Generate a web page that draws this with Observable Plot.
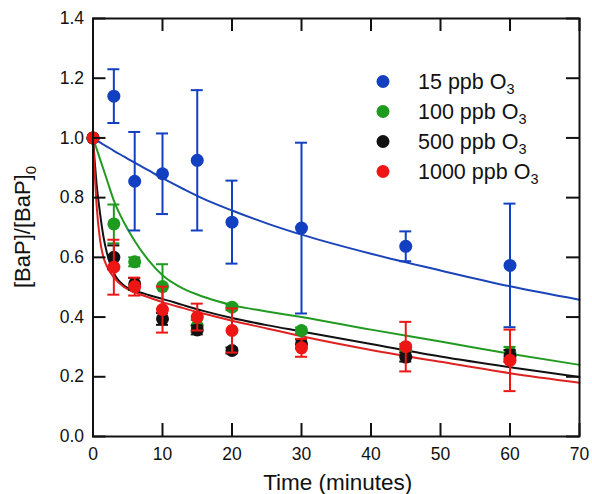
<!DOCTYPE html>
<html><head><meta charset="utf-8">
<script src="https://cdn.jsdelivr.net/npm/d3@7"></script>
<script src="https://cdn.jsdelivr.net/npm/@observablehq/plot@0.6"></script>
<style>body{margin:0;background:#fff}#chart svg{display:block}</style>
</head><body><div id="chart"></div>
<script>
// ---- data ----
const times = [0, 3, 6, 10, 15, 20, 30, 45, 60];
const seriesNames = ["15 ppb O3", "100 ppb O3", "500 ppb O3", "1000 ppb O3"];
const val15   = [1.0, 1.14, 0.855, 0.88, 0.925, 0.718, 0.698, 0.637, 0.573];
const err15   = [0, 0.09, 0.165, 0.135, 0.235, 0.139, 0.286, 0.05, 0.207];
const val100  = [1.0, 0.712, 0.585, 0.502, 0.37, 0.433, 0.355, 0.29, 0.28];
const err100  = [0, 0.065, 0.015, 0.075, 0.02, 0.01, 0.01, 0.02, 0.02];
const val500  = [1.0, 0.60, 0.511, 0.394, 0.357, 0.288, 0.31, 0.266, 0.27];
const err500  = [0, 0.04, 0.02, 0.02, 0.015, 0.01, 0.015, 0.015, 0.02];
const val1000 = [1.0, 0.567, 0.502, 0.425, 0.40, 0.355, 0.297, 0.301, 0.255];
const err1000 = [0, 0.092, 0.03, 0.077, 0.045, 0.074, 0.03, 0.083, 0.103];

// fitted curves
const fitT    = [0, 0.25, 0.5, 1, 1.5, 2, 3, 4.5, 6, 8, 10, 13, 16, 20, 25, 30, 40, 50, 60, 70];
const fit15   = [1.0, 0.996, 0.993, 0.985, 0.978, 0.971, 0.957, 0.937, 0.917, 0.891, 0.865, 0.829, 0.795, 0.757, 0.714, 0.676, 0.612, 0.556, 0.503, 0.458];
const fit100  = [1.0, 0.982, 0.965, 0.93, 0.895, 0.86, 0.79, 0.715, 0.655, 0.59, 0.54, 0.495, 0.467, 0.44, 0.419, 0.40, 0.358, 0.318, 0.277, 0.240];
const fit500  = [1.0, 0.92, 0.85, 0.75, 0.67, 0.615, 0.548, 0.505, 0.489, 0.474, 0.461, 0.44, 0.42, 0.397, 0.373, 0.352, 0.31, 0.268, 0.232, 0.199];
const fit1000 = [1.0, 0.88, 0.78, 0.66, 0.60, 0.57, 0.533, 0.50, 0.483, 0.466, 0.45, 0.43, 0.411, 0.388, 0.362, 0.336, 0.29, 0.25, 0.212, 0.18];

const xTicks = [0, 10, 20, 30, 40, 50, 60, 70];
const yTicks = [0, 0.2, 0.4, 0.6, 0.8, 1.0, 1.2, 1.4];
const colors = ["#1340c0", "#1e9a1e", "#111111", "#ee1515"];
const lineColors = ["#1a44b8", "#229a22", "#111111", "#dd2222"];

// ---- build tables ----
const vals = [val15, val100, val500, val1000];
const errs = [err15, err100, err500, err1000];
const fits = [fit15, fit100, fit500, fit1000];
const series = seriesNames.map((name, k) => ({
  name, color: colors[k], lineColor: lineColors[k],
  pts: times.map((t, i) => ({t, v: vals[k][i], e: errs[k][i]})),
  fit: fitT.map((t, i) => ({t, v: fits[k][i]}))
}));

const W = 592, H = 494, mL = 92.5, mR = 13, mT = 18, mB = 58;
const plotW = W - mL - mR, plotH = H - mT - mB;
const tickLen = 13;
const font = "Liberation Sans, Arial, Helvetica, sans-serif";

const marks = [];
for (const s of series) {
  marks.push(Plot.line(s.fit, {x: "t", y: "v", stroke: s.lineColor, strokeWidth: 2, curve: "monotone-x"}));
}
for (const s of series) {
  const eb = s.pts.filter(d => d.e > 0);
  marks.push(Plot.ruleX(eb, {x: "t", y1: d => d.v - d.e, y2: d => d.v + d.e, stroke: s.color, strokeWidth: 2}));
  marks.push(Plot.ruleY(eb, {y: d => d.v + d.e, x1: "t", x2: "t", insetLeft: -6, insetRight: -6, stroke: s.color, strokeWidth: 2}));
  marks.push(Plot.ruleY(eb, {y: d => d.v - d.e, x1: "t", x2: "t", insetLeft: -6, insetRight: -6, stroke: s.color, strokeWidth: 2}));
  marks.push(Plot.dot(s.pts, {x: "t", y: "v", r: 6.5, fill: s.color, stroke: "none"}));
}
// frame + inward ticks
marks.push(Plot.tickX(xTicks, {x: d => d, insetTop: plotH - tickLen, stroke: "#111", strokeWidth: 2}));
marks.push(Plot.tickX(xTicks, {x: d => d, insetBottom: plotH - tickLen, stroke: "#111", strokeWidth: 2}));
marks.push(Plot.tickY(yTicks, {y: d => d, insetRight: plotW - tickLen, stroke: "#111", strokeWidth: 2}));
marks.push(Plot.tickY(yTicks, {y: d => d, insetLeft: plotW - tickLen, stroke: "#111", strokeWidth: 2}));
marks.push(Plot.frame({stroke: "#111", strokeWidth: 2}));
marks.push(Plot.axisX(xTicks, {tickSize: 0, tickPadding: 11, fontSize: 17.5, label: null, fill: "#111"}));
marks.push(Plot.axisY(yTicks, {tickSize: 0, tickPadding: 9, fontSize: 17.5, label: null, fill: "#111", tickFormat: d => d.toFixed(1)}));

const chart = Plot.plot({
  width: W, height: H,
  marginLeft: mL, marginRight: mR, marginTop: mT, marginBottom: mB,
  style: {fontFamily: font, background: "#fff", color: "#111"},
  x: {domain: [0, 70]},
  y: {domain: [0, 1.4]},
  marks
});

const svg = d3.select(chart);
// axis titles
svg.append("text").attr("x", mL + plotW / 2 + 2).attr("y", 490)
  .attr("text-anchor", "middle").attr("font-family", font).attr("font-size", 22.5).attr("fill", "#111")
  .text("Time (minutes)");
const yl = svg.append("text").attr("transform", `translate(30,${mT + plotH / 2}) rotate(-90)`)
  .attr("text-anchor", "middle").attr("font-family", font).attr("font-size", 22).attr("fill", "#111");
yl.append("tspan").text("[BaP]/[BaP]");
yl.append("tspan").attr("font-size", 15).attr("dy", 6).text("0");

// legend
const lg = svg.append("g");
series.forEach((s, i) => {
  const cy = 81.5 + i * 30;
  lg.append("circle").attr("cx", 383).attr("cy", cy).attr("r", 6.5).attr("fill", s.color);
  const base = s.name.slice(0, -1), sub = s.name.slice(-1);
  const t = lg.append("text").attr("x", 418).attr("y", cy + 7.5).attr("text-anchor", "start")
    .attr("font-family", font).attr("font-size", 21.5).attr("fill", "#111");
  t.append("tspan").text(base);
  t.append("tspan").attr("font-size", 14.5).attr("dy", 5).text(sub);
});

document.getElementById("chart").appendChild(chart);
</script>
</body></html>
